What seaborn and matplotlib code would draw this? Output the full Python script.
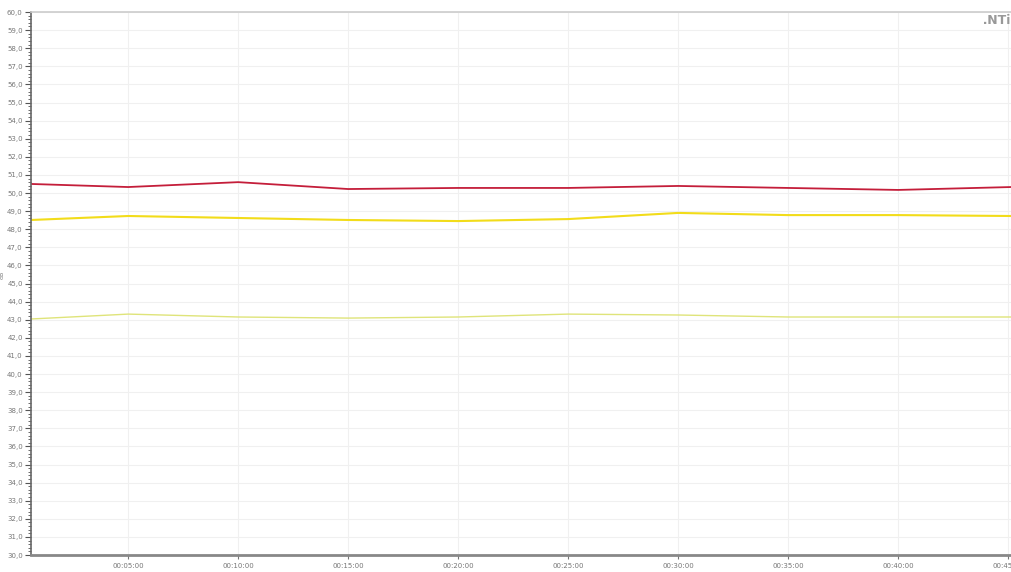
import matplotlib
matplotlib.use("Agg")
import matplotlib.pyplot as plt
import matplotlib.ticker as mticker
import seaborn as sns
import pandas as pd
import numpy as np

times = ["00:00:35", "00:05:00", "00:10:00", "00:15:00", "00:20:00", "00:25:00",
         "00:30:00", "00:35:00", "00:40:00", "00:45:08"]
red_vals = [50.50, 50.33, 50.60, 50.22, 50.28, 50.28, 50.39, 50.28, 50.17, 50.33]
yellow_vals = [48.51, 48.73, 48.62, 48.51, 48.45, 48.56, 48.90, 48.78, 48.78, 48.73]
lime_vals = [43.04, 43.31, 43.15, 43.09, 43.15, 43.31, 43.26, 43.15, 43.15, 43.15]
tick_labels = ["00:05:00", "00:10:00", "00:15:00", "00:20:00", "00:25:00",
               "00:30:00", "00:35:00", "00:40:00", "00:45:00"]

def to_min(s):
    h, m, sec = (int(p) for p in s.split(":"))
    return h * 60 + m + sec / 60.0

xm = [to_min(t) for t in times]
df = pd.DataFrame({"t": xm * 3,
                   "v": red_vals + yellow_vals + lime_vals,
                   "s": ["red"] * 10 + ["yellow"] * 10 + ["lime"] * 10})

sns.set_style("white")
fig = plt.figure(figsize=(10.11, 5.72), dpi=100)
ax = fig.add_axes([0.0307, 0.0297, 0.9693, 0.9493])
ax.set_facecolor("white")

palette = {"red": "#c41e3a", "yellow": "#f2dc1a", "lime": "#dfe47a"}
sizes = {"red": 1.3, "yellow": 1.5, "lime": 1.0}
for name in ["lime", "yellow", "red"]:
    sub = df[df.s == name]
    sns.lineplot(data=sub, x="t", y="v", color=palette[name], lw=sizes[name], ax=ax,
                 legend=False)

ax.set_xlim(xm[0], xm[-1])
ax.set_ylim(30, 60)

ax.yaxis.set_major_locator(mticker.MultipleLocator(1))
ax.yaxis.set_minor_locator(mticker.MultipleLocator(0.2))
ax.yaxis.set_major_formatter(mticker.FuncFormatter(lambda v, p: f"{v:.1f}".replace(".", ",")))
tick_pos = [to_min(t) for t in tick_labels]
ax.set_xticks(tick_pos)
ax.set_xticklabels(tick_labels)

ax.tick_params(axis="y", which="major", length=4, width=0.8, color="#555555",
               labelsize=5, labelcolor="#777777", pad=2, left=True)
ax.tick_params(axis="y", which="minor", length=2, width=0.6, color="#555555", left=True)
ax.tick_params(axis="x", which="major", length=3, width=0.8, color="#777777",
               labelsize=5, labelcolor="#777777", pad=3, bottom=True)

ax.grid(True, which="major", axis="both", color="#f0f0f0", lw=0.8)
ax.set_axisbelow(True)

ax.spines["right"].set_visible(False)
ax.spines["top"].set_color("#cccccc")
ax.spines["top"].set_linewidth(1.2)
ax.spines["left"].set_color("#666666")
ax.spines["left"].set_linewidth(1.2)
ax.spines["bottom"].set_color("#888888")
ax.spines["bottom"].set_linewidth(2)

ax.set_xlabel("")
ax.set_ylabel("dB", fontsize=4.5, color="#777777")
ax.yaxis.set_label_coords(-0.027, 0.515)

fig.text(0.999, 0.965, "\u2024NTi", fontsize=9, fontweight="bold", color="#999999",
         ha="right", va="center")

fig.savefig("out.png", dpi=100, facecolor="white")
